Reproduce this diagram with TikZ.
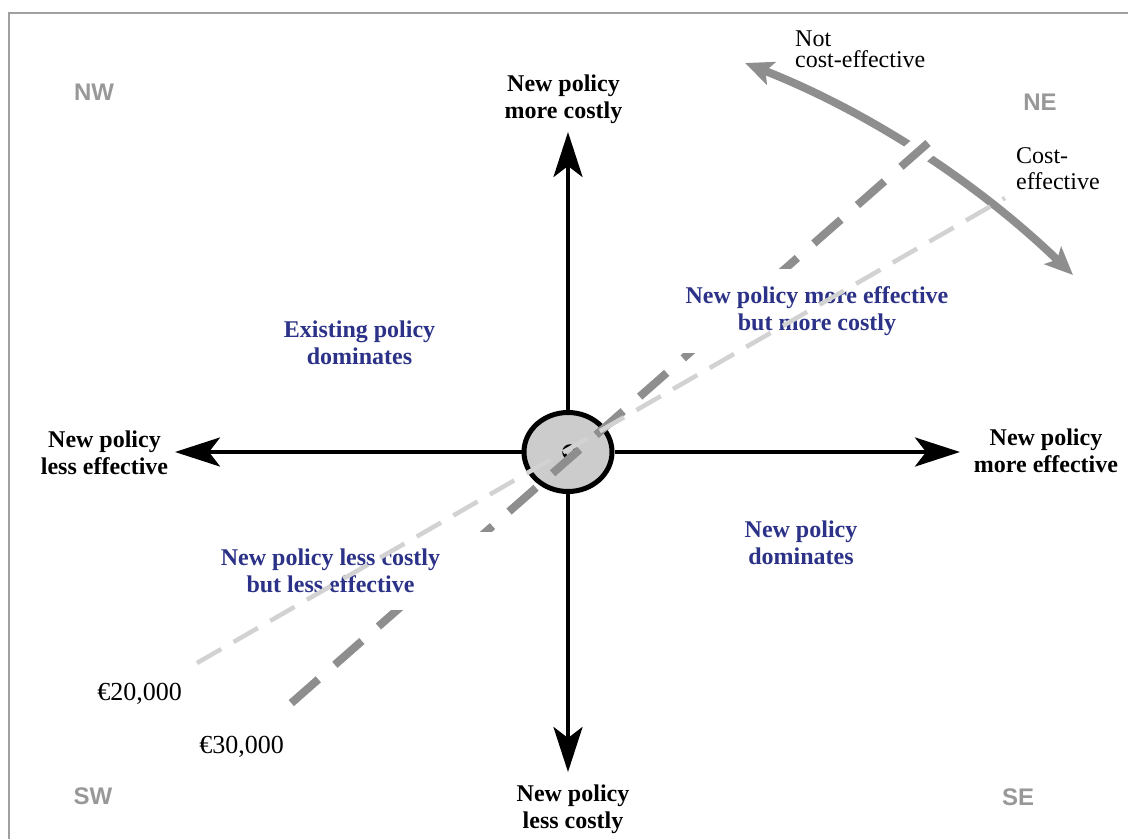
\documentclass[tikz,border=0pt]{standalone}
\usepackage{fontspec}
\setmainfont{Liberation Serif}
\newfontfamily\quadfont{Liberation Sans}
\usetikzlibrary{arrows.meta,shapes.geometric,calc}
\definecolor{polblue}{RGB}{43,50,135}
\definecolor{quadgray}{RGB}{152,152,152}
\definecolor{framegray}{RGB}{160,160,160}
\definecolor{darkdash}{RGB}{142,142,142}
\definecolor{lightdash}{RGB}{210,210,210}
\definecolor{hubfill}{RGB}{204,204,204}
\begin{document}
\begin{tikzpicture}[x=1pt,y=-1pt,
  axislbl/.style={font=\fontsize{24}{27}\selectfont\bfseries, align=center, inner sep=0pt},
  regionlbl/.style={font=\fontsize{24}{27}\selectfont\bfseries, text=polblue, align=center, fill=white, inner xsep=15pt, inner ysep=17pt},
  quadlbl/.style={font=\fontsize{24}{24}\selectfont\quadfont\bfseries, text=quadgray, inner sep=0pt, anchor=base},
  costlbl/.style={font=\fontsize{26}{26}\selectfont, inner sep=0pt, anchor=base},
  axisline/.style={line width=4pt, -{Stealth[length=45pt,width=29pt,inset=11pt]}},
  arcline/.style={line width=8pt, draw=darkdash, {Stealth[length=28pt,width=24pt,inset=6pt]}-{Stealth[length=28pt,width=24pt,inset=6pt]}},
  thresh30/.style={line width=8pt, draw=darkdash, dash pattern=on 36pt off 22pt},
  thresh20/.style={line width=4.5pt, draw=lightdash, dash pattern=on 28pt off 14.25pt}
]
\useasboundingbox (0,0) rectangle (1128,839);
% frame
\draw[framegray, line width=1.5pt] (1128,13) -- (9,13) -- (9,839);

% hub and axes
\node[ellipse, draw, line width=5pt, fill=hubfill, minimum width=88pt, minimum height=79pt, inner sep=0pt] (hub) at (568,452) {};
\node[circle, draw, line width=3.5pt, minimum size=12pt, inner sep=0pt] (ring) at (570,452) {};
\coordinate (tipN) at (568,132);
\coordinate (tipS) at (568,772);
\coordinate (tipW) at (175,452);
\coordinate (tipE) at (960,452);
\draw[axisline] (hub) -- (tipN);
\draw[axisline] (hub) -- (tipS);
\draw[axisline] (hub) -- (tipW);
\draw[axisline] (hub) -- (tipE);

% cost-effectiveness arc
\coordinate (arcA) at (745,63);
\coordinate (arcB) at (1073,275);
\draw[arcline] (arcA) .. controls (867,111) and (976.3,181.7) .. (arcB);

% threshold lines
\coordinate (dkLow) at (288,706);
\coordinate (dkHigh) at (928,143);
\coordinate (ltLow) at (197,663);
\coordinate (ltHigh) at (1005,198);
\draw[white, line width=26pt] (dkHigh) -- ($(dkHigh)!36pt!(dkLow)$);
\draw[thresh30] (dkHigh) -- (dkLow);

% region labels
\node[regionlbl] (regNW) at (359.5,342.5) {Existing policy\\dominates};
\node[regionlbl] (regNE) at (817,311) {New policy more effective\\but more costly};
\node[regionlbl] (regSE) at (801,542.5) {New policy\\dominates};
\node[regionlbl, inner xsep=55pt] (regSW) at (330.5,571) {New policy less costly\\but less effective};

\draw[thresh20] (ltLow) -- (ltHigh);

% axis labels
\node[axislbl] (lblN) at (563.5,99) {New policy\\more costly};
\node[axislbl] (lblS) at (573,809) {New policy\\less costly};
\node[axislbl] (lblW) at (104.5,452.5) {New policy\\less effective};
\node[axislbl] (lblE) at (1046,450.5) {New policy\\more effective};

% quadrant names
\node[quadlbl] (qNW) at (94,100) {NW};
\node[quadlbl] (qNE) at (1040,110.5) {NE};
\node[quadlbl] (qSW) at (93,804) {SW};
\node[quadlbl] (qSE) at (1018,805) {SE};

% arc notes
\node[font=\fontsize{24}{21}\selectfont, align=left, inner sep=0pt, anchor=west] (notCE) at (795,49) {Not\\cost-effective};
\node[font=\fontsize{24}{26}\selectfont, align=left, inner sep=0pt, anchor=west] (isCE) at (1016,169) {Cost-\\effective};

% threshold values
\node[costlbl] (v20) at (139.5,700) {€20,000};
\node[costlbl] (v30) at (241.7,753) {€30,000};
\end{tikzpicture}
\end{document}
